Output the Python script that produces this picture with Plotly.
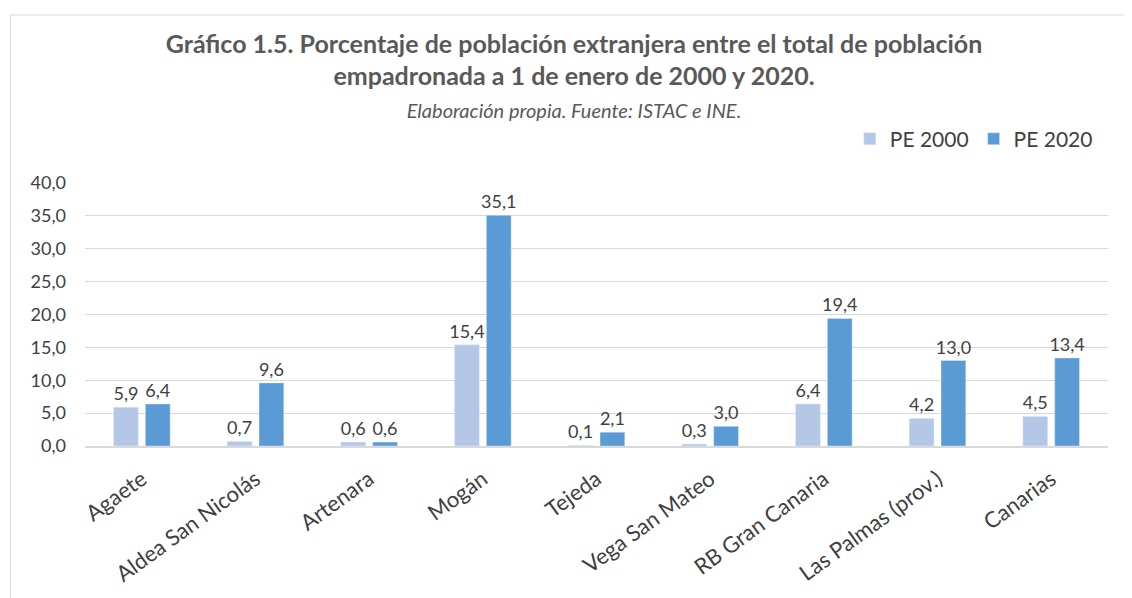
import plotly.graph_objects as go

# Datos
municipios = ["Agaete", "Aldea San Nicolás", "Artenara", "Mogán", "Tejeda",
              "Vega San Mateo", "RB Gran Canaria", "Las Palmas (prov.)", "Canarias"]
pe_2000 = [5.9, 0.7, 0.6, 15.4, 0.1, 0.3, 6.4, 4.2, 4.5]
pe_2020 = [6.4, 9.6, 0.6, 35.1, 2.1, 3.0, 19.4, 13.0, 13.4]

font_family = "Lato, Open Sans, sans-serif"
text_color = "#404040"

fig = go.Figure()

fig.add_trace(go.Bar(
    x=municipios, y=pe_2000, name="PE 2000",
    marker=dict(color="#B4C7E7"),
    texttemplate="%{y:.1f}", textposition="outside", constraintext="none",
    textfont=dict(size=18, color=text_color), cliponaxis=False
))
fig.add_trace(go.Bar(
    x=municipios, y=pe_2020, name="PE 2020",
    marker=dict(color="#5B9BD5"),
    texttemplate="%{y:.1f}", textposition="outside", constraintext="none",
    textfont=dict(size=18, color=text_color), cliponaxis=False
))

fig.update_layout(
    width=1132, height=598,
    separators=",.",
    paper_bgcolor="white", plot_bgcolor="white",
    font=dict(family=font_family, color=text_color),
    margin=dict(l=77, r=32, t=175, b=160),
    barmode="group", bargap=0.44, bargroupgap=0.22,
    title=dict(
        text="<b>Gráfico 1.5. Porcentaje de población extranjera entre el total de población<br>"
             "empadronada a 1 de enero de 2000 y 2020.</b><br>"
             "<span style='font-size:20px'><i>Elaboración propia. Fuente: ISTAC e INE.</i></span>",
        x=0.5, xanchor="center", y=0.925, yanchor="top",
        font=dict(size=25, color="#595959", family=font_family)
    ),
    legend=dict(orientation="h", x=0.99, xanchor="right", y=1.245, yanchor="top",
                font=dict(size=21, color=text_color), traceorder="normal"),
    xaxis=dict(tickangle=-36, tickfont=dict(size=22, color=text_color),
               ticklabelstandoff=10,
               showline=True, linecolor="#D9D9D9", linewidth=1.5, ticks=""),
    yaxis=dict(range=[0, 40], dtick=5, tickformat=".1f",
               tickfont=dict(size=18, color=text_color), ticklabelstandoff=18,
               showgrid=True, gridcolor="#D9D9D9", gridwidth=1,
               zeroline=False, ticks=""),
    shapes=[dict(type="rect", xref="paper", yref="paper",
                 x0=-0.073, x1=1.1, y0=-1, y1=1.639,
                 line=dict(color="#D9D9D9", width=1), fillcolor="rgba(0,0,0,0)")]
)

fig.write_html("out.html")
